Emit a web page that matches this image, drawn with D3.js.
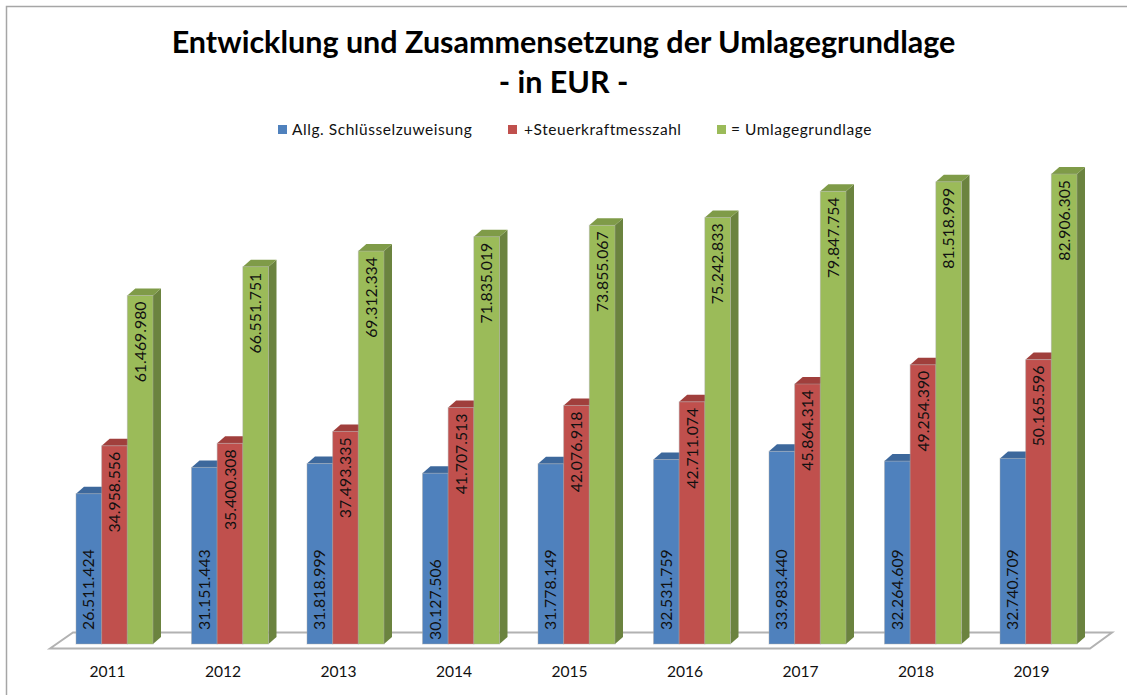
<!DOCTYPE html>
<html lang="de">
<head>
<meta charset="utf-8">
<title>Entwicklung und Zusammensetzung der Umlagegrundlage</title>
<script src="https://cdn.jsdelivr.net/npm/d3@7"></script>
<style>
	html, body { margin: 0; padding: 0; background: #fff; }
	svg { display: block; font-family: Lato, "Open Sans", sans-serif; }
</style>
</head>
<body>
<script>
// data
var years = ["2011", "2012", "2013", "2014", "2015", "2016", "2017", "2018", "2019"];
var seriesNames = ["Allg. Schlüsselzuweisung", "+Steuerkraftmesszahl", "= Umlagegrundlage"];
var schluessel = [26511424, 31151443, 31818999, 30127506, 31778149, 32531759, 33983440, 32264609, 32740709];
var steuerkraft = [34958556, 35400308, 37493335, 41707513, 42076918, 42711074, 45864314, 49254390, 50165596];
var umlage = [61469980, 66551751, 69312334, 71835019, 73855067, 75242833, 79847754, 81518999, 82906305];
var titleLines = ["Entwicklung und Zusammensetzung der Umlagegrundlage", "- in EUR -"];

var w = 1127, h = 695;
var baseY = 644;
var depthX = 8, depthY = 7;
var front = ["#4f81bd", "#c0504d", "#9bbb59"];
var topFace = ["#3d689c", "#a03f3c", "#7f9b48"];
var sideFace = ["#3a5f8f", "#8f3b39", "#6b833f"];
var allValues = [schluessel, steuerkraft, umlage];

var svg = d3.select("body").append("svg").attr("width", w).attr("height", h);

// frame
svg.append("path")
	.attr("d", "M6.5," + h + "V6.5H" + w)
	.attr("fill", "none").attr("stroke", "#a6a6a6").attr("stroke-width", 1.5);

var xScale = d3.scaleBand().domain(years).range([76, 1077]).paddingInner(1 / 3).paddingOuter(0);
var seriesScale = d3.scaleBand().domain(d3.range(3)).range([0, xScale.bandwidth()]);
var yScale = d3.scaleLinear().domain([0, 82906305]).range([baseY, 174]);

// floor
svg.append("path")
	.attr("d", "M50,648.5L73,632.5H1112L1090,648.5Z")
	.attr("fill", "#fff").attr("stroke", "#b2b2b2").attr("stroke-width", 2);

// title
svg.append("g").selectAll("text").data(titleLines).enter().append("text")
	.attr("x", 563.5)
	.attr("y", function(d, i) { return 52.5 + i * 40.5; })
	.attr("text-anchor", "middle")
	.attr("font-size", "30.5px").attr("font-weight", 700).attr("fill", "#000")
	.text(function(d) { return d; });

// legend
var legendX = [278, 508, 717];
var legend = svg.append("g").selectAll("g").data(seriesNames).enter().append("g")
	.attr("transform", function(d, i) { return "translate(" + legendX[i] + ",125)"; });
legend.append("rect").attr("width", 9).attr("height", 9)
	.attr("fill", function(d, i) { return front[i]; });
legend.append("text")
	.attr("x", function(d, i) { return i == 1 ? 16 : 14; }).attr("y", 9.5)
	.attr("font-size", "15.5px").attr("letter-spacing", "0.55px").attr("fill", "#111")
	.text(function(d) { return d; });

// bars, drawn group by group so each bar overlaps the side of the one before
years.forEach(function(year, yi) {
	var g = svg.append("g").attr("transform", "translate(" + xScale(year) + ",0)");
	[0, 1, 2].forEach(function(si) {
		var x0 = seriesScale(si), x1 = x0 + seriesScale.bandwidth();
		var y0 = yScale(allValues[si][yi]);
		g.append("path")
			.attr("d", "M" + x1 + "," + y0 + "l" + depthX + "," + (-depthY) + "V" + (baseY - depthY) + "l" + (-depthX) + "," + depthY + "Z")
			.attr("fill", sideFace[si]);
		g.append("path")
			.attr("d", "M" + x0 + "," + y0 + "l" + depthX + "," + (-depthY) + "H" + (x1 + depthX) + "l" + (-depthX) + "," + depthY + "Z")
			.attr("fill", topFace[si]);
		g.append("rect")
			.attr("x", x0).attr("y", y0)
			.attr("width", seriesScale.bandwidth())
			.attr("height", baseY - y0)
			.attr("fill", front[si])
			.attr("stroke", "#a8a8a8").attr("stroke-opacity", 0.45).attr("stroke-width", 1);
	});
	// value labels
	[0, 1, 2].forEach(function(si) {
		var y0 = yScale(allValues[si][yi]);
		var cx = seriesScale(si) + seriesScale.bandwidth() / 2;
		// the 2014 blue label sits lower than the others in the original
		var ly = si == 0 ? (year == "2014" ? baseY - 4 : baseY - 14) : y0 + 6;
		g.append("text")
			.attr("transform", "translate(" + (cx + 5.5) + "," + ly + ") rotate(-90)")
			.attr("text-anchor", si == 0 ? "start" : "end")
			.attr("font-size", "15.8px").attr("fill", "#111")
			.text(d3.format(",")(allValues[si][yi]).replace(/,/g, "."));
	});
});

// x axis labels
var xAxis = d3.axisBottom(xScale).tickSize(0).tickPadding(0);
var axisG = svg.append("g").attr("transform", "translate(-7,666)").call(xAxis);
axisG.select(".domain").remove();
axisG.selectAll("text")
	.attr("font-family", "Lato, sans-serif").attr("font-size", "15.6px").attr("fill", "#111");
</script>
</body>
</html>
